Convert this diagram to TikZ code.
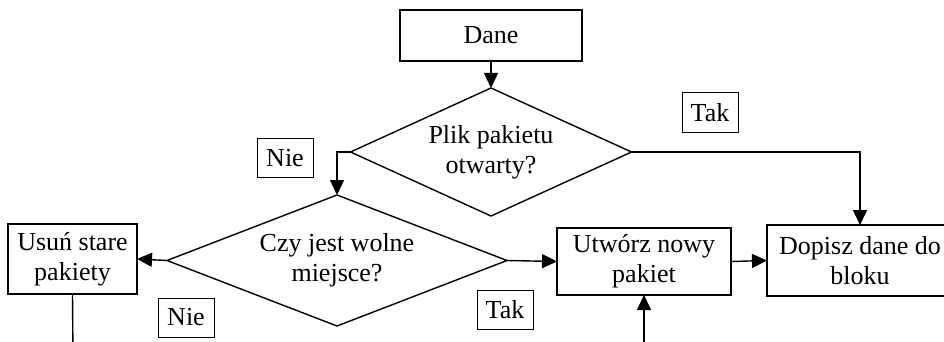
\documentclass[tikz,border=0pt]{standalone}
\usepackage{fontspec}
\setmainfont{Liberation Serif}
\usetikzlibrary{shapes.geometric, arrows.meta}

\begin{document}
\begin{tikzpicture}
    [x = 1pt, y = -1pt, outer sep = 0pt, line width = 1.4pt,
    every node/.style={font=\fontsize{26}{30}\selectfont, align=center},
    block/.style={rectangle, draw=black, inner sep = 0pt},
    decision/.style={diamond, draw=black, inner sep = 0pt},
    answer/.style={rectangle, draw=black, line width = 1pt, minimum
      width = 56pt, minimum height = 39pt, inner sep = 0pt},
    flow/.style={-{Triangle[length=15pt, width=14pt]}}]

    \useasboundingbox (0,0) rectangle (944,342);
    \clip (0,0) rectangle (944,342);

    \node [block, minimum width = 182pt, minimum height = 51pt] (dane)
    at (491,35.5) {Dane};
    \node [decision, aspect = 2.2, minimum width = 281pt, minimum
    height = 128pt] (plik) at (491,152) {Plik pakietu\\otwarty?};
    \node [decision, aspect = 2.6, minimum width = 340pt, minimum
    height = 131pt] (miejsce) at (337,260.5) {Czy jest wolne\\miejsce?};
    \node [block, minimum width = 129pt, minimum height = 70pt] (usun)
    at (72.5,259) {Usuń stare\\pakiety};
    \node [block, minimum width = 174pt, minimum height = 67pt] (nowy)
    at (644,261.5) {Utwórz nowy\\pakiet};
    \node [block, minimum width = 186pt, minimum height = 71pt] (dopisz)
    at (860,260.5) {Dopisz dane do\\bloku};

    \node [answer] (nie1) at (285,158) {Nie};
    \node [answer] (tak1) at (710,112.5) {Tak};
    \node [answer] (nie2) at (186,317.5) {Nie};
    \node [answer] (tak2) at (505,310) {Tak};

    \coordinate (usun_out) at (73,360);
    \coordinate (nowy_in) at (644,360);

    \draw [flow] (dane) -- (plik.north);
    \draw [flow] (plik.west) -| (miejsce.north);
    \draw [flow] (plik.east) -| (dopisz.north);
    \draw [flow] (miejsce.west) -- (usun.east);
    \draw [flow] (miejsce.east) -- (nowy.west);
    \draw [flow] (nowy.east) -- (dopisz.west);
    \draw (usun.south) -- (usun_out);
    \draw [flow] (nowy_in) -- (nowy.south);
  \end{tikzpicture}
\end{document}
